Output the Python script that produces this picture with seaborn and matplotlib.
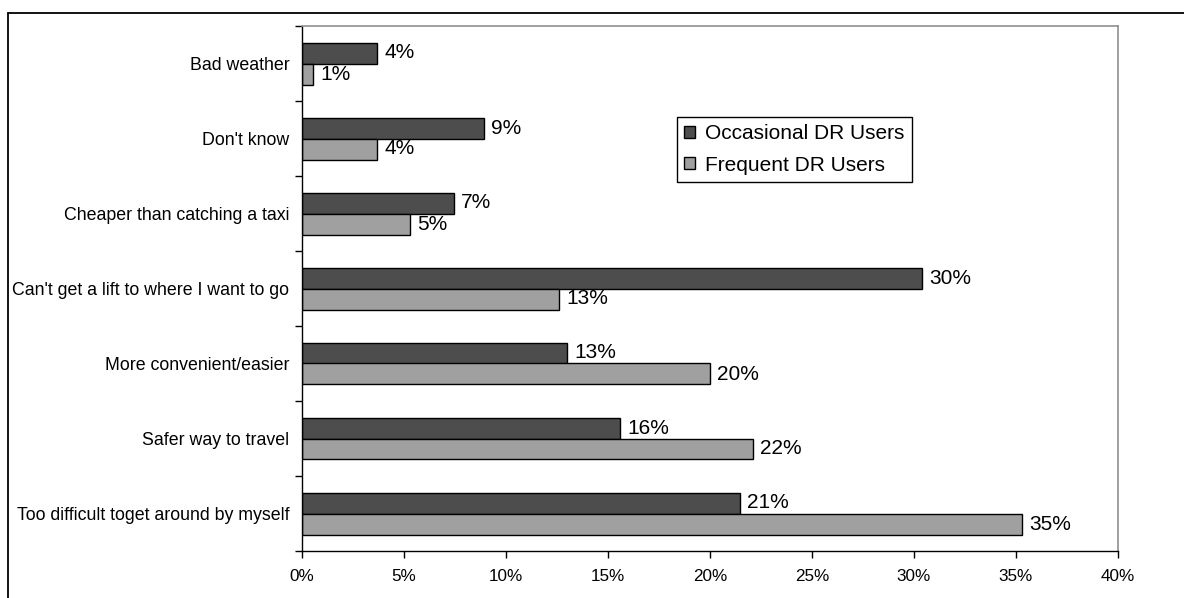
import matplotlib
matplotlib.use("Agg")
import matplotlib.pyplot as plt
from matplotlib.patches import Patch
from matplotlib.lines import Line2D
from matplotlib.ticker import PercentFormatter, FixedLocator
import seaborn as sns
import pandas as pd

reasons = [
    "Bad weather",
    "Don't know",
    "Cheaper than catching a taxi",
    "Can't get a lift to where I want to go",
    "More convenient/easier",
    "Safer way to travel",
    "Too difficult toget around by myself",
]
occasional = [3.7, 8.9, 7.45, 30.4, 13.0, 15.6, 21.45]
frequent = [0.55, 3.7, 5.3, 12.6, 20.0, 22.1, 35.3]
groups = ["Occasional DR Users", "Frequent DR Users"]
colors = ["#4d4d4d", "#a0a0a0"]

df = pd.DataFrame({
    "reason": reasons * 2,
    "value": occasional + frequent,
    "group": [groups[0]] * len(reasons) + [groups[1]] * len(reasons),
})

sns.set_style("white")
plt.rcParams["font.family"] = ["Liberation Sans", "DejaVu Sans"]
plt.rcParams["text.color"] = "black"
plt.rcParams["xtick.color"] = "black"
plt.rcParams["ytick.color"] = "black"

fig = plt.figure(figsize=(11.84, 5.98), dpi=100)
ax = fig.add_axes([302 / 1184, 47 / 598, 816 / 1184, 525 / 598])

sns.barplot(data=df, x="value", y="reason", hue="group", order=reasons,
            hue_order=groups, palette=colors, width=0.56, orient="h",
            edgecolor="black", linewidth=1, legend=False, ax=ax)

# value labels
for cont, vals in zip(ax.containers, [occasional, frequent]):
    ax.bar_label(cont, labels=[f"{v:.0f}%" for v in vals], padding=5,
                 fontsize=15, color="black")

ax.set_xlim(0, 40)
ax.set_ylim(len(reasons) - 0.5, -0.5)
ax.set_xlabel("")
ax.set_ylabel("")
ax.xaxis.set_major_formatter(PercentFormatter(decimals=0))
ax.set_xticks(range(0, 41, 5))

# category ticks at group boundaries, labels at centres
ax.yaxis.set_minor_locator(FixedLocator([i - 0.5 for i in range(len(reasons) + 1)]))
ax.tick_params(axis="y", which="major", length=0, pad=9, labelsize=12.8, labelcolor="black")
ax.tick_params(axis="y", which="minor", left=True, length=5, width=1, color="black")
ax.tick_params(axis="x", which="major", bottom=True, length=5, width=1, color="black",
               pad=8, labelsize=12.3, labelcolor="black")

for side in ["left", "bottom"]:
    ax.spines[side].set_color("black")
    ax.spines[side].set_linewidth(1)
for side in ["top", "right"]:
    ax.spines[side].set_color("#909090")
    ax.spines[side].set_linewidth(1.2)

handles = [Patch(facecolor=c, edgecolor="black", linewidth=1) for c in colors]
leg = ax.legend(handles, groups, loc="upper left", bbox_to_anchor=(0.4596, 0.8267),
                fontsize=15, frameon=True, fancybox=False, framealpha=1,
                borderaxespad=0, borderpad=0.35, labelspacing=0.6,
                handlelength=0.5, handleheight=0.5, handletextpad=0.5)
leg.get_frame().set_edgecolor("black")
leg.get_frame().set_linewidth(1)

# outer chart frame (only top and left edges fall inside the image)
fx, fy = 8 / 1184, 1 - 13 / 598
fig.add_artist(Line2D([fx, fx], [0, fy], color="black", lw=1.3, transform=fig.transFigure))
fig.add_artist(Line2D([fx, 1], [fy, fy], color="black", lw=1.3, transform=fig.transFigure))

fig.savefig("out.png", dpi=100)
